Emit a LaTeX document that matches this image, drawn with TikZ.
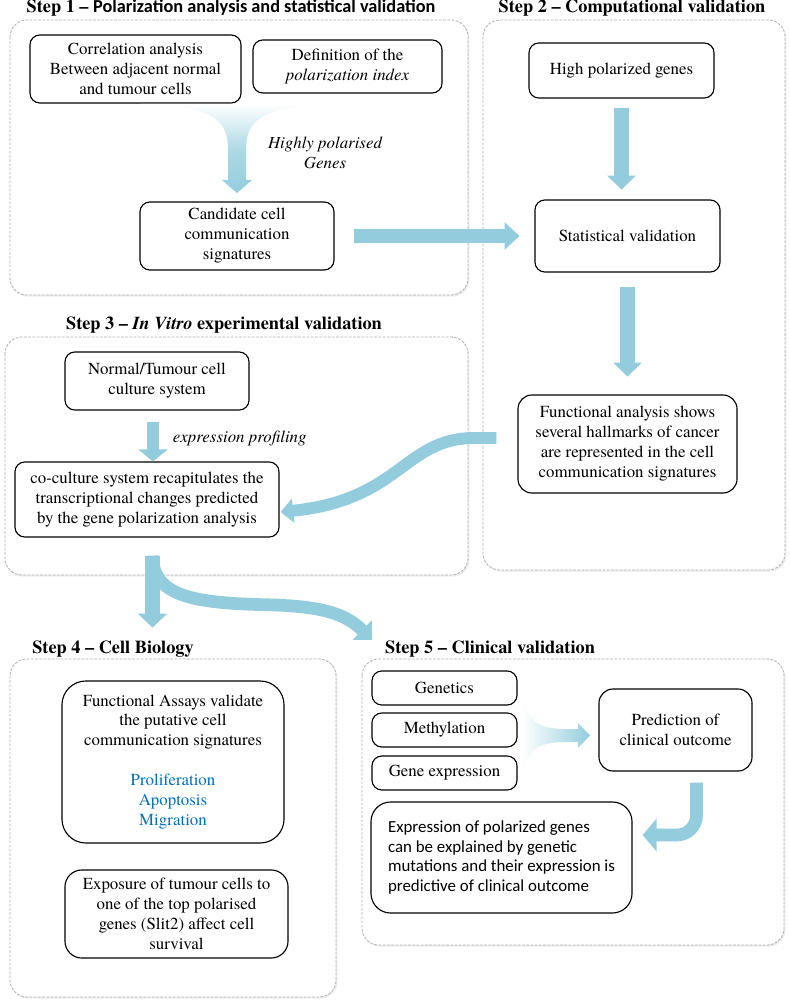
\documentclass[tikz,border=0pt]{standalone}
\usepackage{fontspec}
\setmainfont{texgyretermes}[Extension=.otf, UprightFont=*-regular, BoldFont=*-bold,
    ItalicFont=*-italic, BoldItalicFont=*-bolditalic]
\newfontfamily\calibri{Carlito}
\usepackage{tikz}
\usetikzlibrary{arrows.meta}
\usetikzlibrary{calc}
\usetikzlibrary{shadows}

\definecolor{flowblue}{RGB}{147,205,221}
\definecolor{listblue}{RGB}{0,112,192}
\newcommand{\boxfont}{\fontsize{12}{14.2}\selectfont}
\newcommand{\stepfont}{\fontsize{13}{15}\selectfont\bfseries}

\tikzset{
    panel/.style={draw=black!30, dash pattern=on 2pt off 1pt, line width=0.6pt,
        rounded corners=12pt, fill=white,
        drop shadow={shadow xshift=1pt, shadow yshift=-1.2pt, opacity=0.15}},
    stage/.style={draw, line width=0.8pt, rounded corners=7pt, align=center,
        font=\boxfont, inner sep=2pt},
    steptitle/.style={anchor=base, font=\stepfont},
    flow/.style={draw=flowblue, line width=11pt,
        -{Triangle[width=20pt,length=10pt]}},
}

\begin{document}
\begin{tikzpicture}[x=0.025cm, y=-0.025cm]
        \useasboundingbox[fill=white] (0,0) rectangle (789,1004);

        % panels
        \draw[panel] (10,20) rectangle (468,295);
        \draw[panel] (483,20) rectangle (785,570);
        \draw[panel] (5,337) rectangle (468,575);
        \draw[panel] (10,659) rectangle (336,997);
        \draw[panel] (362,659) rectangle (784,945);

        \node[steptitle] (t1) at (231,13) {Step 1 -- {\calibri Polarization analysis and statistical validation}};
        \node[steptitle] (t2) at (632,13) {Step 2 -- Computational validation};
        \node[steptitle] (t3) at (224,329) {Step 3 -- \textit{In Vitro} experimental validation};
        \node[steptitle] (t4) at (113,653) {Step 4 -- Cell Biology};
        \node[steptitle] (t5) at (490,653) {Step 5 -- Clinical validation};

        % step 1
        \node[stage, minimum width=5.275cm, minimum height=1.7cm] (corr) at (135.5,69)
        {Correlation analysis\\Between adjacent normal\\and tumour cells};
        \node[stage, minimum width=4.725cm, minimum height=1.325cm] (defn) at (347.5,66.5)
        {Definition of the\\\textit{polarization index}};
        \node[stage, minimum width=4.85cm, minimum height=1.7cm] (cand) at (237,236)
        {Candidate cell\\communication\\signatures};

        \shade[top color=white, bottom color=flowblue, middle color=flowblue!75]
        (140,104) .. controls (215,106) and (228,120) .. (228,150) -- (228,180)
        -- (222,180) -- (237,193) -- (252,180) -- (246,180) -- (246,150)
        .. controls (246,120) and (260,106) .. (340,104) -- cycle;
        \node[font=\boxfont\itshape, align=center] (hpg) at (325,153) {Highly polarised\\Genes};

        % step 2
        \node[stage, minimum width=4.625cm, minimum height=1.375cm] (high) at (621.5,70.5)
        {High polarized genes};
        \node[stage, minimum width=4.625cm, minimum height=1.8cm] (stat) at (627.5,236)
        {Statistical validation};
        \node[stage, minimum width=5.475cm, minimum height=2.45cm, rounded corners=10pt] (func) at (627.5,444)
        {Functional analysis shows\\several hallmarks of cancer\\are represented in the cell\\communication signatures};

        \draw[flow, shorten <=7pt, shorten >=7pt] (high.south) -- (high.south |- stat.north);
        \draw[flow, shorten <=10.6pt, shorten >=12.7pt] (stat.south) -- (func.north);
        \draw[flow, line width=10pt, -{Triangle[width=19pt,length=10.6pt]},
        shorten <=13.5pt, shorten >=10.6pt] (cand.east) -- (stat.west);

        % step 3
        \node[stage, minimum width=4.6cm, minimum height=1.45cm] (norm) at (157,381)
        {Normal/Tumour cell\\culture system};
        \node[stage, minimum width=6.6cm, minimum height=1.875cm] (cocult) at (147,499.5)
        {co-culture system recapitulates the\\transcriptional changes predicted\\by the gene polarization analysis};

        \draw[flow, line width=8.5pt, -{Triangle[width=20.5pt,length=8.5pt]}, shorten <=8pt]
        ($(norm.south)+(-4,0)$) -- ($(norm.south |- cocult.north)+(-4,0)$);
        \node[font=\boxfont\itshape, anchor=west] (prof) at (168,438) {expression profiling};

        \draw[flow, line width=8.5pt, -{Triangle[width=17pt,length=9pt]}]
        ($(func.west)+(-21,-6)$) -- ($(func.west)+(-43,-6)$)
        .. controls ($(func.west)+(-113,-6)$) and ($(cocult.east)+(121,0.5)$)
        .. ($(cocult.east)+(1,12.5)$);

        % split towards step 4 and step 5
        \coordinate (root) at ($(cocult.south)+(5.5,18)$);
        \draw[flow, line width=10.6pt, -{Triangle[width=20.5pt,length=10pt]}]
        (root) -- ($(root)+(0,72)$);
        \draw[flow, line width=9pt, -{Triangle[width=19pt,length=10pt]}]
        (root) .. controls ($(root)+(0,40)$) and ($(root)+(40,47)$) .. ($(root)+(107,49)$)
        .. controls ($(root)+(167,50)$) and ($(root)+(192,57)$) .. ($(t5.base west)+(-8,-13)$);

        % step 4
        \node[stage, minimum width=5.55cm, minimum height=4.05cm, rounded corners=17pt] (assay) at (173,762)
        {Functional Assays validate\\the putative cell\\communication signatures\\[14.2pt]
         \textcolor{listblue}{Proliferation}\\\textcolor{listblue}{Apoptosis}\\\textcolor{listblue}{Migration}};
        \node[stage, minimum width=5.575cm, minimum height=2.2cm, rounded corners=12pt] (expo) at (176.5,914)
        {Exposure of tumour cells to\\one of the top polarised\\genes (Slit2) affect cell\\survival};

        % step 5
        \node[stage, minimum width=3.625cm, minimum height=0.85cm] (genet) at (444.5,688) {Genetics};
        \node[stage, minimum width=3.625cm, minimum height=0.85cm] (methyl) at (444.5,730) {Methylation};
        \node[stage, minimum width=3.625cm, minimum height=0.85cm] (gexp) at (444.5,773) {Gene expression};
        \node[stage, minimum width=3.825cm, minimum height=2.05cm, rounded corners=10pt] (pred) at (675.5,730)
        {Prediction of\\clinical outcome};
        \node[stage, minimum width=6.525cm, minimum height=2.775cm, rounded corners=14pt, align=left,
        font=\calibri\boxfont] (explain) at (501.5,857.5)
        {Expression of polarized genes\\can be explained by genetic\\mutations and their expression is\\predictive of clinical outcome};

        \shade[left color=white, right color=flowblue]
        (522,692) .. controls (525,722) and (540,729) .. (565,729) -- (578,729)
        -- (578,723) -- (590,735.5) -- (578,748) -- (578,742) -- (565,742)
        .. controls (540,742) and (525,749) .. (522,779) -- cycle;

        \draw[flow, line width=9pt, rounded corners=14pt, -{Triangle[width=23pt,length=10pt]}]
        ($(pred.south)+(21,11)$) |- ($(explain.east)+(10,-22.5)$);

\end{tikzpicture}
\end{document}
